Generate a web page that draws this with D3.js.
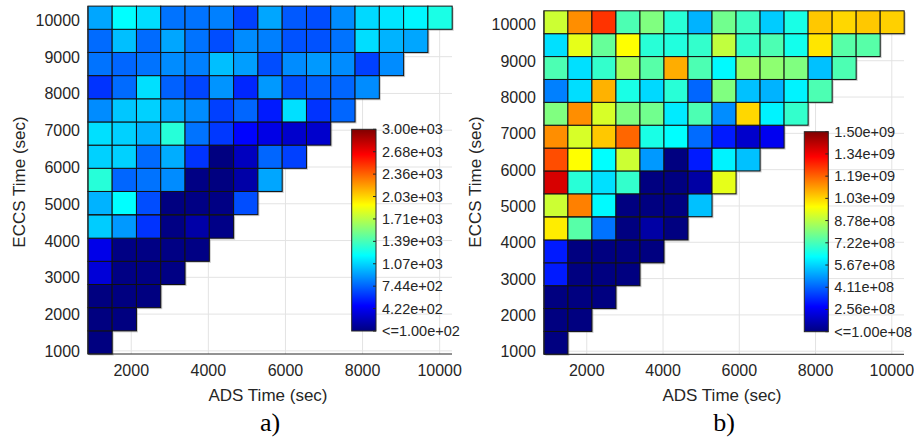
<html>
<head>
  <script src="https://cdn.jsdelivr.net/npm/d3@7"></script>
  <style>
    body { margin: 0; background: #fff; }
    text { font-family: 'Liberation Sans', Arial, sans-serif; fill: #262626; }
    .panel-tag { font-family: 'Liberation Serif', 'Times New Roman', serif; fill: #000; }
  </style>
</head>
<body>
<svg id="chart" width="914" height="441"></svg>
<script>
  /*--- Data ---*/
  // cell centres (sec)
  var adsTimes  = [1190, 1820, 2450, 3080, 3710, 4340, 4970, 5600, 6230, 6860, 7490, 8120, 8750, 9380, 10010];
  var eccsTimes = [1230, 1860, 2490, 3120, 3750, 4380, 5020, 5650, 6280, 6910, 7540, 8170, 8800, 9430, 10060];
  var cellStep = 630;

  var xTicks = [2000, 4000, 6000, 8000, 10000];
  var yTicks = [1000, 2000, 3000, 4000, 5000, 6000, 7000, 8000, 9000, 10000];

  // panel a), rows from ECCS = 1230 upward, one value per ADS column
  var leftRows = [
    [100],
    [100, 100],
    [100, 100, 100],
    [350, 110, 110, 110],
    [400, 110, 110, 110, 110],
    [1042, 897, 607, 110, 210, 120],
    [970, 1187, 680, 100, 110, 110, 680],
    [1296, 752, 789, 861, 110, 100, 210, 935],
    [1057, 1057, 767, 955, 607, 100, 280, 752, 644],
    [1100, 1057, 970, 1296, 789, 622, 470, 390, 318, 318],
    [861, 1028, 1057, 935, 861, 644, 752, 535, 1100, 607, 752],
    [607, 767, 1100, 738, 658, 883, 571, 897, 680, 738, 752, 861],
    [789, 752, 789, 861, 825, 1006, 912, 680, 861, 897, 861, 644, 861],
    [767, 1006, 767, 935, 789, 680, 861, 825, 695, 695, 789, 1093, 970, 935],
    [935, 1187, 1093, 789, 789, 825, 644, 935, 716, 680, 861, 1079, 1115, 1165, 1260]
  ];
  var leftRange = [100, 3000];
  var leftBarLabels = ["3.00e+03", "2.68e+03", "2.36e+03", "2.03e+03", "1.71e+03",
                       "1.39e+03", "1.07e+03", "7.44e+02", "4.22e+02", "<=1.00e+02"];

  // panel b), values in units of 1e8
  var rightRows = [
    [1],
    [1, 1],
    [1, 1, 1],
    [3.1, 1, 1, 1],
    [3.1, 1, 1, 1, 1],
    [10.0, 7.45, 4.33, 1, 1.5, 1],
    [9.05, 11.5, 6.2, 1, 1, 1, 5.4],
    [13.8, 6.8, 5.83, 6.95, 1, 1, 1.5, 9.4],
    [12.2, 9.75, 6.25, 9.05, 4.85, 1, 3.1, 6.08, 5.4],
    [11.3, 9.2, 10.5, 11.85, 6.6, 6.25, 4.22, 3.1, 2.05, 2.55],
    [8.0, 11.3, 9.2, 8.0, 7.8, 5.97, 7.3, 4.68, 10.3, 6.08, 6.95],
    [4.5, 5.8, 10.8, 6.6, 5.73, 6.8, 4.15, 8.0, 5.4, 5.2, 6.08, 7.3],
    [7.3, 5.83, 6.95, 8.5, 7.45, 10.87, 7.3, 6.18, 8.35, 8.2, 8.0, 5.4, 7.3],
    [5.83, 9.4, 7.65, 9.75, 6.8, 6.7, 6.95, 8.9, 6.95, 7.3, 6.5, 10.1, 7.45, 7.45],
    [9.05, 11.3, 12.55, 7.3, 8.0, 6.8, 5.2, 7.8, 7.1, 5.55, 6.6, 10.5, 10.3, 10.5, 10.4]
  ];
  var rightRange = [1, 15];
  var rightBarLabels = ["1.50e+09", "1.34e+09", "1.19e+09", "1.03e+09", "8.78e+08",
                        "7.22e+08", "5.67e+08", "4.11e+08", "2.56e+08", "<=1.00e+08"];

  /*--- Jet colormap ---*/
  var jetStops = [0, 0.125, 0.375, 0.625, 0.875, 1];
  var jetColors = ["#000080", "#0000ff", "#00ffff", "#ffff00", "#ff0000", "#800000"];

  function jetScale(range) {
    return d3.scaleLinear()
      .domain(jetStops.map(function(s) { return range[0] + s * (range[1] - range[0]); }))
      .range(jetColors)
      .clamp(true);
  }

  var svg = d3.select("#chart");
  var defs = svg.append("defs");

  var grad = defs.append("linearGradient").attr("id", "jet")
    .attr("x1", 0).attr("y1", 1).attr("x2", 0).attr("y2", 0);
  jetStops.forEach(function(s, i) {
    grad.append("stop").attr("offset", s).attr("stop-color", jetColors[i]);
  });

  /*--- Draws one panel ---*/
  function drawPanel(p) {
    var x = d3.scaleLinear().domain([878, 10320]).range([p.x0, p.x1]);
    var y = d3.scaleLinear().domain([915, 10378]).range([p.y1, p.y0]);
    var color = jetScale(p.range);
    var g = svg.append("g");

    // grid
    g.selectAll(".vgrid").data(xTicks).enter().append("line")
      .attr("x1", function(d) { return x(d); }).attr("x2", function(d) { return x(d); })
      .attr("y1", p.y0).attr("y2", p.y1)
      .attr("stroke", "#e3e3e3").attr("stroke-width", 1);
    g.selectAll(".hgrid").data(yTicks).enter().append("line")
      .attr("y1", function(d) { return y(d); }).attr("y2", function(d) { return y(d); })
      .attr("x1", p.x0).attr("x2", p.x1)
      .attr("stroke", "#e3e3e3").attr("stroke-width", 1);

    var cells = [];
    p.rows.forEach(function(row, ri) {
      row.forEach(function(v, ci) {
        cells.push({ ads: adsTimes[ci], eccs: eccsTimes[ri], v: v });
      });
    });

    var w = x(cellStep) - x(0), h = y(0) - y(cellStep);

    // soft shadow
    g.selectAll(".shadow").data(cells).enter().append("rect")
      .attr("x", function(d) { return x(d.ads - cellStep / 2) + 1.5; })
      .attr("y", function(d) { return y(d.eccs + cellStep / 2) + 1.5; })
      .attr("width", w).attr("height", h)
      .attr("fill", "#8a8a8a").attr("opacity", 0.45);

    g.selectAll(".cell").data(cells).enter().append("rect")
      .attr("x", function(d) { return x(d.ads - cellStep / 2); })
      .attr("y", function(d) { return y(d.eccs + cellStep / 2); })
      .attr("width", w).attr("height", h)
      .attr("fill", function(d) { return color(d.v); })
      .attr("stroke", "#111").attr("stroke-width", 1);

    // axes
    g.append("line").attr("x1", p.x0).attr("x2", p.x0).attr("y1", p.y0).attr("y2", p.y1)
      .attr("stroke", "#262626");
    g.append("line").attr("x1", p.x0).attr("x2", p.x1).attr("y1", p.y1).attr("y2", p.y1)
      .attr("stroke", "#262626");

    g.selectAll(".xt").data(xTicks).enter().append("text")
      .attr("x", function(d) { return x(d); }).attr("y", p.y1 + 22)
      .attr("text-anchor", "middle").attr("font-size", 16)
      .text(function(d) { return d; });
    g.selectAll(".yt").data(yTicks).enter().append("text")
      .attr("x", p.x0 - 8).attr("y", function(d) { return y(d) + 6; })
      .attr("text-anchor", "end").attr("font-size", 16)
      .text(function(d) { return d; });

    g.append("text").attr("x", (p.x0 + p.x1) / 2 - 2).attr("y", 401)
      .attr("text-anchor", "middle").attr("font-size", 17).text("ADS Time (sec)");
    g.append("text").attr("transform", "translate(" + (p.x0 - 63) + "," + 182 + ") rotate(-90)")
      .attr("text-anchor", "middle").attr("font-size", 17).text("ECCS Time (sec)");

    svg.append("text").attr("class", "panel-tag")
      .attr("x", (p.x0 + p.x1) / 2 + 0).attr("y", 431)
      .attr("text-anchor", "middle").attr("font-size", 26).text(p.tag);

    // colorbar
    var cb = p.bar;
    var cy = d3.scaleLinear().domain([0, p.labels.length - 1]).range([cb.y, cb.y + cb.h]);
    g.append("rect").attr("x", cb.x).attr("y", cb.y).attr("width", cb.w).attr("height", cb.h)
      .attr("fill", "url(#jet)").attr("stroke", "#262626").attr("stroke-width", 1);
    g.selectAll(".cbt").data(p.labels).enter().append("line")
      .attr("x1", cb.x + cb.w - 3).attr("x2", cb.x + cb.w)
      .attr("y1", function(d, i) { return cy(i); }).attr("y2", function(d, i) { return cy(i); })
      .attr("stroke", "#262626");
    g.selectAll(".cbl").data(p.labels).enter().append("text")
      .attr("x", cb.x + cb.w + 6).attr("y", function(d, i) { return cy(i) + 5; })
      .attr("font-size", 14.5)
      .text(function(d) { return d; });
  }

  drawPanel({ x0: 88, x1: 452, y0: 6, y1: 354, rows: leftRows, range: leftRange,
              labels: leftBarLabels, tag: "a)",
              bar: { x: 351.7, y: 129.3, w: 24.3, h: 201.7 } });
  drawPanel({ x0: 544, x1: 904, y0: 10.7, y1: 354.3, rows: rightRows, range: rightRange,
              labels: rightBarLabels, tag: "b)",
              bar: { x: 804.3, y: 131.7, w: 24, h: 200 } });
</script>
</body>
</html>
